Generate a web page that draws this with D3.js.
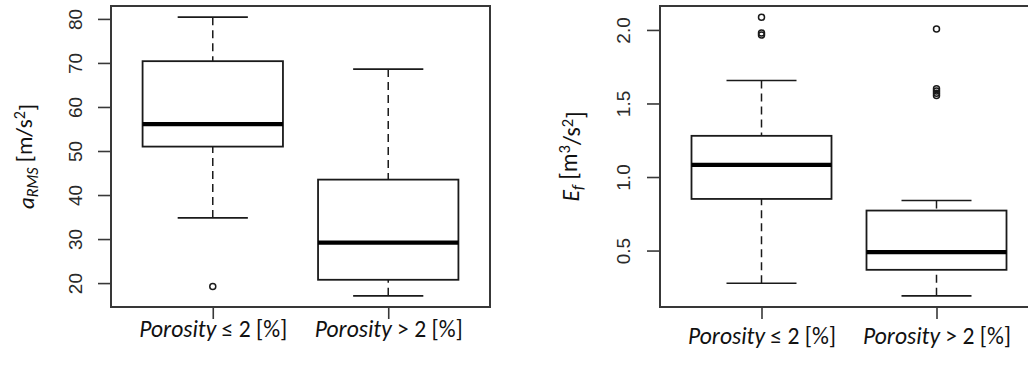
<!DOCTYPE html>
<html>
<head>
<meta charset="utf-8">
<script src="https://cdn.jsdelivr.net/npm/d3@7"></script>
<style>
  html, body { margin: 0; padding: 0; background: #fff; }
  svg { display: block; }
</style>
</head>
<body>
<svg id="chart" width="1028" height="365"></svg>
<script>
// Group names shared by both panels
const groups = ["Porosity ≤ 2 [%]", "Porosity > 2 [%]"];

// Five-number summaries: [lower whisker, Q1, median, Q3, upper whisker]
const aRmsStats = [
  [34.8, 51.0, 56.1, 70.4, 80.4],
  [17.1, 20.75, 29.2, 43.5, 68.6]
];
const aRmsOutliers = [[19.2], []];
const aRmsTicks = [20, 30, 40, 50, 60, 70, 80];

const efStats = [
  [0.278, 0.851, 1.083, 1.28, 1.656],
  [0.192, 0.369, 0.489, 0.772, 0.84]
];
const efOutliers = [[2.087, 1.98, 1.965], [2.007, 1.60, 1.585, 1.57, 1.555]];
const efTicks = [0.5, 1.0, 1.5, 2.0];

const svg = d3.select("#chart");
const FRAME = "#383838";
const INK = "#1a1a1a";
const labelFont = "Carlito, Calibri, Lato, 'Open Sans', sans-serif";
const tickFont = "'Liberation Sans', Arial, sans-serif";

// scale a text element's font size so its advance width equals `target`
function fitWidth(sel, target) {
  const base = parseFloat(sel.attr("font-size"));
  const w = sel.node().getComputedTextLength();
  if (w > 0) sel.attr("font-size", (base * target / w).toFixed(2));
}

function drawPanel(p) {
  const g = svg.append("g");

  // y range padded 4% like R's default axis style
  const all = p.stats.flat().concat(p.outliers.flat());
  const [lo, hi] = d3.extent(all);
  const pad = (hi - lo) * 0.04;
  const y = d3.scaleLinear().domain([lo - pad, hi + pad]).range([p.bottom, p.top]);
  const x = d3.scaleLinear().domain([0.42, 2.58]).range([p.left, p.right]);
  const unit = x(2) - x(1);
  const boxW = unit * 0.8;
  const capW = boxW * 0.5;

  // frame
  g.append("rect")
    .attr("x", p.left).attr("y", p.top)
    .attr("width", p.right - p.left).attr("height", p.bottom - p.top)
    .attr("fill", "none").attr("stroke", FRAME).attr("stroke-width", 2);

  // y axis
  const yAxis = d3.axisLeft(y).tickValues(p.ticks).tickSize(13).tickFormat(p.fmt);
  const ya = g.append("g").attr("transform", `translate(${p.left},0)`).call(yAxis);
  ya.select(".domain").remove();
  ya.selectAll(".tick line").attr("stroke", FRAME).attr("stroke-width", 1.6);
  ya.selectAll(".tick text")
    .attr("x", null).attr("dy", null)
    .attr("text-anchor", "middle")
    .attr("transform", `translate(${p.tickLabelX - p.left},0) rotate(-90)`)
    .attr("font-family", tickFont).attr("font-size", 19).attr("fill", "#2a2a2a");

  // x axis
  const xAxis = d3.axisBottom(x).tickValues([1, 2]).tickSize(12).tickFormat(i => groups[i - 1]);
  const xa = g.append("g").attr("transform", `translate(0,${p.bottom})`).call(xAxis);
  xa.select(".domain").remove();
  xa.selectAll(".tick line").attr("stroke", FRAME).attr("stroke-width", 1.6);
  xa.selectAll(".tick text")
    .attr("y", p.xLabelY - p.bottom).attr("dy", null)
    .attr("font-family", labelFont).attr("font-size", 20).attr("fill", "#111")
    .each(function(d) {
      const t = d3.select(this);
      const parts = groups[d - 1].split("Porosity");
      t.text(null);
      t.append("tspan").attr("font-style", "italic").text("Porosity");
      t.append("tspan").text(parts[1]);
      fitWidth(t, 148);
    });

  // boxes
  p.stats.forEach((s, i) => {
    const cx = x(i + 1);
    const bx = g.append("g");
    // whiskers drawn from the caps toward the box
    bx.append("line").attr("x1", cx).attr("x2", cx).attr("y1", y(s[0])).attr("y2", y(s[1]))
      .attr("stroke", INK).attr("stroke-width", 1.5).attr("stroke-dasharray", "8 5");
    bx.append("line").attr("x1", cx).attr("x2", cx).attr("y1", y(s[4])).attr("y2", y(s[3]))
      .attr("stroke", INK).attr("stroke-width", 1.5).attr("stroke-dasharray", "8 5");
    [s[0], s[4]].forEach(v => {
      bx.append("line").attr("x1", cx - capW / 2).attr("x2", cx + capW / 2)
        .attr("y1", y(v)).attr("y2", y(v))
        .attr("stroke", INK).attr("stroke-width", 1.6);
    });
    bx.append("rect")
      .attr("x", cx - boxW / 2).attr("y", y(s[3]))
      .attr("width", boxW).attr("height", y(s[1]) - y(s[3]))
      .attr("fill", "#fff").attr("stroke", INK).attr("stroke-width", 1.8);
    bx.append("line").attr("x1", cx - boxW / 2).attr("x2", cx + boxW / 2)
      .attr("y1", y(s[2])).attr("y2", y(s[2]))
      .attr("stroke", "#000").attr("stroke-width", 4.2);
    p.outliers[i].forEach(v => {
      bx.append("circle").attr("cx", cx).attr("cy", y(v)).attr("r", 3)
        .attr("fill", "none").attr("stroke", INK).attr("stroke-width", 1.5);
    });
  });

  // y axis title
  const yt = g.append("text")
    .attr("transform", `translate(${p.yLabelX},${(p.top + p.bottom) / 2}) rotate(-90)`)
    .attr("text-anchor", "middle")
    .attr("font-family", labelFont).attr("font-size", 20).attr("fill", "#111");
  p.yTitle(yt);
  fitWidth(yt, p.yTitleWidth);
}

drawPanel({
  left: 111, right: 490, top: 6, bottom: 307,
  stats: aRmsStats, outliers: aRmsOutliers, ticks: aRmsTicks,
  fmt: d3.format("d"), tickLabelX: 81.5, xLabelY: 337, yLabelX: 34, yTitleWidth: 105,
  yTitle: t => {
    t.append("tspan").attr("font-style", "italic").text("a");
    t.append("tspan").attr("font-style", "italic").attr("font-size", "70%").attr("dy", "0.25em").text("RMS");
    t.append("tspan").attr("dy", "-0.25em").text(" [m/s");
    t.append("tspan").attr("font-size", "70%").attr("dy", "-0.45em").text("2");
    t.append("tspan").attr("dy", "0.45em").text("]");
  }
});

drawPanel({
  left: 660, right: 1038, top: 6, bottom: 307,
  stats: efStats, outliers: efOutliers, ticks: efTicks,
  fmt: d3.format(".1f"), tickLabelX: 630, xLabelY: 344, yLabelX: 579, yTitleWidth: 90,
  yTitle: t => {
    t.append("tspan").attr("font-style", "italic").text("E");
    t.append("tspan").attr("font-style", "italic").attr("font-size", "70%").attr("dy", "0.25em").text("f");
    t.append("tspan").attr("dy", "-0.25em").text(" [m");
    t.append("tspan").attr("font-size", "70%").attr("dy", "-0.45em").text("3");
    t.append("tspan").attr("dy", "0.45em").text("/s");
    t.append("tspan").attr("font-size", "70%").attr("dy", "-0.45em").text("2");
    t.append("tspan").attr("dy", "0.45em").text("]");
  }
});
</script>
</body>
</html>
